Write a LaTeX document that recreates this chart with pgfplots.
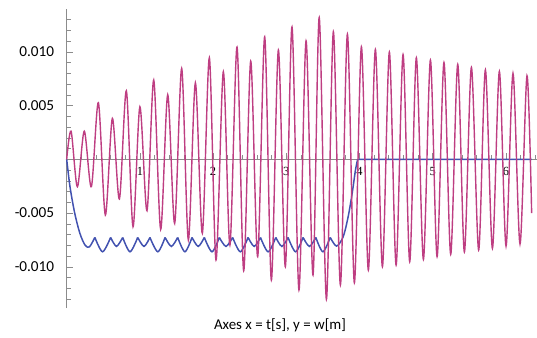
\documentclass[border=0pt]{standalone}
\usepackage{fontspec}
\setmainfont{Carlito}
\newfontfamily\tnr{Liberation Serif}
\usepackage{pgfplots}
\pgfplotsset{compat=1.18}
\definecolor{mmag}{RGB}{190,62,130}
\definecolor{mblue}{RGB}{66,82,176}
\definecolor{axgray}{RGB}{140,140,140}
\begin{document}
\begin{tikzpicture}
\begin{axis}[
  scale only axis, width=470.3bp, height=298.6bp,
  at={(0,0)}, anchor=south west,
  xmin=0, xmax=6.425, ymin=-0.01383, ymax=0.01395,
  axis lines=middle,
  axis line style={-, draw=axgray, line width=0.6bp},
  xtick={1,2,3,4,5,6}, xticklabels={1,2,3,4,5,6},
  minor xtick={0.2,0.4,0.6,0.8,1.2,1.4,1.6,1.8,2.2,2.4,2.6,2.8,3.2,3.4,3.6,3.8,4.2,4.4,4.6,4.8,5.2,5.4,5.6,5.8,6.2,6.4},
  ytick={-0.01,-0.005,0.005,0.01}, yticklabels={-0.010,-0.005,0.005,0.010},
  minor ytick={-0.013,-0.012,-0.011,-0.009,-0.008,-0.007,-0.006,-0.004,-0.003,-0.002,-0.001,0.001,0.002,0.003,0.004,0.006,0.007,0.008,0.009,0.011,0.012,0.013},
  tick align=inside,
  major tick length=6bp, minor tick length=4bp,
  every tick/.style={draw=axgray, line width=0.6bp},
  xticklabel style={font=\tnr\fontsize{12.5}{14}\selectfont, anchor=north, yshift=-4bp},
  yticklabel style={font=\fontsize{15.3}{18}\selectfont, anchor=east, xshift=-9bp},
  scaled y ticks=false,
  clip=false,
  unbounded coords=jump,
]
% blue curve: scalloped arcs between cusps
\addplot[mblue, line width=1.5bp, smooth] coordinates {
(0,0) (0.045,-2.55e-3) (0.11,-5.02e-3) (0.18,-6.88e-3) (0.25,-7.97e-3) (0.31,-8.15e-3) (0.385,-7.26e-3)
(0.385,nan)
(0.385,-7.26e-3) (0.49,-8.6e-3) (0.600,-7.26e-3)
(0.600,nan)
(0.600,-7.26e-3) (0.68,-8.1e-3) (0.765,-7.26e-3)
(0.765,nan)
(0.765,-7.26e-3) (0.865,-8.6e-3) (0.970,-7.26e-3)
(0.970,nan)
(0.970,-7.26e-3) (1.056,-8.1e-3) (1.137,-7.26e-3)
(1.137,nan)
(1.137,-7.26e-3) (1.245,-8.6e-3) (1.344,-7.26e-3)
(1.344,nan)
(1.344,-7.26e-3) (1.43,-8.1e-3) (1.516,-7.26e-3)
(1.516,nan)
(1.516,-7.26e-3) (1.615,-8.6e-3) (1.712,-7.26e-3)
(1.712,nan)
(1.712,-7.26e-3) (1.797,-8.1e-3) (1.880,-7.26e-3)
(1.880,nan)
(1.880,-7.26e-3) (1.985,-8.6e-3) (2.085,-7.26e-3)
(2.085,nan)
(2.085,-7.26e-3) (2.176,-8.1e-3) (2.267,-7.26e-3)
(2.267,nan)
(2.267,-7.26e-3) (2.372,-8.6e-3) (2.478,-7.26e-3)
(2.478,nan)
(2.478,-7.26e-3) (2.562,-8.1e-3) (2.647,-7.26e-3)
(2.647,nan)
(2.647,-7.26e-3) (2.752,-8.6e-3) (2.856,-7.26e-3)
(2.856,nan)
(2.856,-7.26e-3) (2.94,-8.1e-3) (3.024,-7.26e-3)
(3.024,nan)
(3.024,-7.26e-3) (3.127,-8.6e-3) (3.229,-7.26e-3)
(3.229,nan)
(3.229,-7.26e-3) (3.316,-8.1e-3) (3.403,-7.26e-3)
(3.403,nan)
(3.403,-7.26e-3) (3.5,-8.6e-3) (3.600,-7.26e-3)
(3.600,nan)
(3.600,-7.26e-3) (3.686,-8.07e-3) (3.777,-7.2e-3) (3.845,-5.34e-3) (3.9,-3.16e-3) (3.945,-1.0e-3) (3.975,0)
(3.975,nan)
(3.975,0) (6.352,0)
};
% magenta curve
\addplot[mmag, line width=1.4bp, smooth] coordinates {
(0,0) (0.06,2.62e-3) (0.146,-2.55e-3) (0.24,2.62e-3) (0.337,-2.55e-3)
(0.433,5.27e-3) (0.528,-5.18e-3) (0.624,3.81e-3) (0.72,-3.69e-3)
(0.815,6.38e-3) (0.906,-6.27e-3) (1.0,4.89e-3) (1.097,-4.78e-3)
(1.189,7.38e-3) (1.284,-6.52e-3) (1.38,6.01e-3) (1.475,-5.96e-3)
(1.571,8.46e-3) (1.662,-7.51e-3) (1.758,7.12e-3) (1.853,-6.88e-3)
(1.949,9.45e-3) (2.04,-9.37e-3) (2.14,8.15e-3) (2.23,-7.97e-3)
(2.327,10.45e-3) (2.418,-10.36e-3) (2.514,9.14e-3) (2.609,-9.06e-3)
(2.705,11.4e-3) (2.796,-11.23e-3) (2.892,10.17e-3) (2.987,-9.99e-3)
(3.078,12.32e-3) (3.173,-12.16e-3) (3.27,11.02e-3) (3.365,-10.76e-3)
(3.45,13.2e-3) (3.548,-13.02e-3) (3.643,11.87e-3) (3.739,-11.69e-3)
(3.835,11.65e-3) (3.93,-11.48e-3) (4.026,10.47e-3) (4.121,-10.3e-3)
(4.217,10.22e-3) (4.313,-9.99e-3) (4.408,9.98e-3) (4.5,-9.83e-3)
(4.595,9.75e-3) (4.686,-9.52e-3) (4.777,9.45e-3) (4.873,-9.31e-3)
(4.969,9.24e-3) (5.06,-9.06e-3) (5.154,9.02e-3) (5.246,-8.84e-3)
(5.342,8.84e-3) (5.433,-8.62e-3) (5.529,8.56e-3) (5.628,-8.44e-3)
(5.72,8.33e-3) (5.816,-8.28e-3) (5.911,8.18e-3) (6.002,-8.07e-3)
(6.097,8.0e-3) (6.193,-7.88e-3) (6.288,7.78e-3) (6.352,-5.0e-3)
};
\end{axis}
\node[font=\fontsize{15}{18}\selectfont] at (213.3bp,-17bp) {Axes x = t[s], y = w[m]};
\pgfresetboundingbox
\path[use as bounding box] (-66.7bp,-30bp) rectangle (470.3bp,308bp);
\end{tikzpicture}
\end{document}
